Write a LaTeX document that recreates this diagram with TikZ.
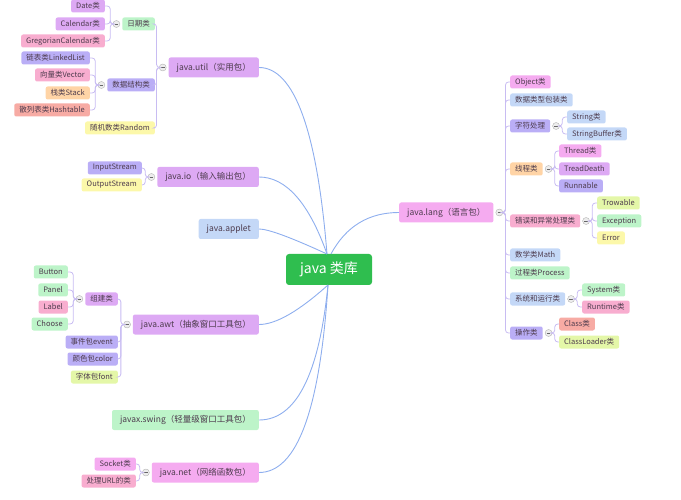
\documentclass[tikz,border=0pt]{standalone}
\usepackage{fontspec}
\newfontfamily\cjk{Noto Sans CJK SC}
\usetikzlibrary{positioning}
\definecolor{lilac}{HTML}{DDA9F4}
\definecolor{rose}{HTML}{F8ADCF}
\definecolor{mint}{HTML}{BDF4C9}
\definecolor{peri}{HTML}{BAAEF6}
\definecolor{apricot}{HTML}{FFD4A6}
\definecolor{salmon}{HTML}{F7ABA4}
\definecolor{lemon}{HTML}{FCF8AA}
\definecolor{lime}{HTML}{E4F7A8}
\definecolor{sky}{HTML}{C4D8F7}
\definecolor{orchid}{HTML}{F5ABF0}
\definecolor{rootgreen}{HTML}{2FBE4F}
\definecolor{txt}{HTML}{4D3B4D}
\definecolor{trunkline}{HTML}{8EAEEE}
\definecolor{twigline}{HTML}{C8BCF2}
\begin{document}
\begin{tikzpicture}[x=1pt,y=-1pt,
    box/.style={rounded corners=2pt,text=txt,font=\cjk\fontsize{7.5}{8}\selectfont,inner xsep=5pt,inner ysep=0pt,minimum height=13pt},
    pkg/.style={box,font=\cjk\fontsize{8.5}{10}\selectfont,inner xsep=8pt,minimum height=20pt},
    fold/.style={circle,draw=black!30,fill=black!7,text=black!60,inner sep=0pt,minimum size=7pt},
    trunk/.style={trunkline,line width=0.9pt},
    twig/.style={twigline,line width=0.8pt,rounded corners=3pt}]
    \useasboundingbox (0,0) rectangle (681,500);
    \node[box,fill=rootgreen,text=white,font=\cjk\fontsize{14}{16}\selectfont,minimum width=86pt,minimum height=31pt,rounded corners=3pt] (root) at (329,269.5) {java 类库};
    \coordinate (up) at (327,254);
    \coordinate (upr) at (331,254);
    \coordinate (down) at (328,285);

    \node[pkg,fill=lilac,anchor=east] (util) at (259,67.5) {java.util（实用包）};
    \node[pkg,fill=lilac,anchor=east] (io) at (259,177) {java.io（输入输出包）};
    \node[pkg,fill=sky,anchor=east] (applet) at (259,229) {java.applet};
    \node[pkg,fill=lilac,anchor=east] (awt) at (259,324.5) {java.awt（抽象窗口工具包）};
    \node[pkg,fill=mint,anchor=east] (swing) at (259,420) {javax.swing（轻量级窗口工具包）};
    \node[pkg,fill=orchid,anchor=east] (net) at (259,472.5) {java.net（网络函数包）};
    \node[pkg,fill=orchid,anchor=west] (lang) at (399,212.5) {java.lang（语言包）};

    \draw[trunk] (up) .. controls (317,130) and (294,67.5) .. (util.east);
    \draw[trunk] (up) .. controls (309,203) and (286,177) .. (io.east);
    \draw[trunk] (up) .. controls (290,237) and (268,229) .. (applet.east);
    \draw[trunk] (down) .. controls (299,311) and (276,324.5) .. (awt.east);
    \draw[trunk] (down) .. controls (319,375) and (296,420) .. (swing.east);
    \draw[trunk] (down) .. controls (320,410) and (297,472.5) .. (net.east);
    \draw[trunk] (upr) .. controls (346,226) and (369,212.5) .. (lang.west);

    % java.util
    \node[fold,left=2pt of util] (fUtil) {\rule{3.5pt}{0.8pt}};
    \foreach \n/\y/\c/\t in {day/24/mint/日期类,struct/85/peri/数据结构类,random/128/lemon/随机数类Random}{
        \node[box,fill=\c,anchor=east] (\n) at (155,\y) {\t};
        \draw[twig] (fUtil.west) -- ++(-2.5,0) |- (\n.east);
    }
    \node[fold,left=2pt of day] (fDay) {\rule{3.5pt}{0.8pt}};
    \foreach \n/\y/\c/\t in {date/6/lilac/Date类,calendar/24/lilac/Calendar类,gregorian/41/rose/GregorianCalendar类}{
        \node[box,fill=\c,anchor=east] (\n) at (105,\y) {\t};
        \draw[twig] (fDay.west) -- ++(-2.5,0) |- (\n.east);
    }
    \node[fold,left=2pt of struct] (fStruct) {\rule{3.5pt}{0.8pt}};
    \foreach \n/\y/\c/\t in {linked/58/peri/链表类LinkedList,vector/75/rose/向量类Vector,stack/93/apricot/栈类Stack,hash/110/salmon/散列表类Hashtable}{
        \node[box,fill=\c,anchor=east] (\n) at (90,\y) {\t};
        \draw[twig] (fStruct.west) -- ++(-2.5,0) |- (\n.east);
    }

    % java.io
    \node[fold,left=2pt of io] (fIo) {\rule{3.5pt}{0.8pt}};
    \foreach \n/\y/\c/\t in {instream/168/peri/InputStream,outstream/185/lemon/OutputStream}{
        \node[box,fill=\c,anchor=east] (\n) at (142,\y) {\t};
        \draw[twig] (fIo.west) -- ++(-2.5,0) |- (\n.east);
    }

    % java.awt
    \node[fold,left=2pt of awt] (fAwt) {\rule{3.5pt}{0.8pt}};
    \foreach \n/\y/\c/\t in {widget/299/lilac/组建类,evt/342/peri/事件包event,clr/359/peri/颜色包color,fnt/377/lime/字体包font}{
        \node[box,fill=\c,anchor=east] (\n) at (118,\y) {\t};
        \draw[twig] (fAwt.west) -- ++(-2.5,0) |- (\n.east);
    }
    \node[fold,left=2pt of widget] (fWidget) {\rule{3.5pt}{0.8pt}};
    \foreach \n/\y/\c/\t in {button/272/mint/Button,panel/290/mint/Panel,label/307/rose/Label,choose/324/mint/Choose}{
        \node[box,fill=\c,anchor=east] (\n) at (68,\y) {\t};
        \draw[twig] (fWidget.west) -- ++(-2.5,0) |- (\n.east);
    }

    % java.net
    \node[fold,left=2pt of net] (fNet) {\rule{3.5pt}{0.8pt}};
    \foreach \n/\y/\c/\t in {socket/464/orchid/Socket类,url/481/rose/处理URL的类}{
        \node[box,fill=\c,anchor=east] (\n) at (136,\y) {\t};
        \draw[twig] (fNet.west) -- ++(-2.5,0) |- (\n.east);
    }

    % java.lang
    \node[fold,right=2pt of lang] (fLang) {\rule{3.5pt}{0.8pt}};
    \foreach \n/\y/\c/\t in {object/82/orchid/Object类,wrapper/100/sky/数据类型包装类,strproc/126/peri/字符处理,thread/169/apricot/线程类,error/221/rose/错误和异常处理类,math/255/sky/数学类Math,process/273/mint/过程类Process,system/299/sky/系统和运行类,reflect/333/peri/操作类}{
        \node[box,fill=\c,anchor=west] (\n) at (510,\y) {\t};
        \draw[twig] (fLang.east) -- ++(2.5,0) |- (\n.west);
    }
    \node[fold,right=2pt of strproc] (fStr) {\rule{3.5pt}{0.8pt}};
    \foreach \n/\y/\c/\t in {string/117/sky/String类,buffer/134/sky/StringBuffer类}{
        \node[box,fill=\c,anchor=west] (\n) at (567,\y) {\t};
        \draw[twig] (fStr.east) -- ++(2.5,0) |- (\n.west);
    }
    \node[fold,right=2pt of thread] (fThread) {\rule{3.5pt}{0.8pt}};
    \foreach \n/\y/\c/\t in {threadcls/151/orchid/Thread类,death/169/lilac/TreadDeath,runnable/186/peri/Runnable}{
        \node[box,fill=\c,anchor=west] (\n) at (559,\y) {\t};
        \draw[twig] (fThread.east) -- ++(2.5,0) |- (\n.west);
    }
    \node[fold,right=2pt of error] (fError) {\rule{3.5pt}{0.8pt}};
    \foreach \n/\y/\c/\t in {throwable/203/lime/Trowable,exception/221/mint/Exception,err/238/lemon/Error}{
        \node[box,fill=\c,anchor=west] (\n) at (597,\y) {\t};
        \draw[twig] (fError.east) -- ++(2.5,0) |- (\n.west);
    }
    \node[fold,right=2pt of system] (fSystem) {\rule{3.5pt}{0.8pt}};
    \foreach \n/\y/\c/\t in {sys/290/mint/System类,runtime/307/rose/Runtime类}{
        \node[box,fill=\c,anchor=west] (\n) at (582,\y) {\t};
        \draw[twig] (fSystem.east) -- ++(2.5,0) |- (\n.west);
    }
    \node[fold,right=2pt of reflect] (fReflect) {\rule{3.5pt}{0.8pt}};
    \foreach \n/\y/\c/\t in {cls/324/salmon/Class类,loader/342/lime/ClassLoader类}{
        \node[box,fill=\c,anchor=west] (\n) at (559,\y) {\t};
        \draw[twig] (fReflect.east) -- ++(2.5,0) |- (\n.west);
    }
\end{tikzpicture}
\end{document}
